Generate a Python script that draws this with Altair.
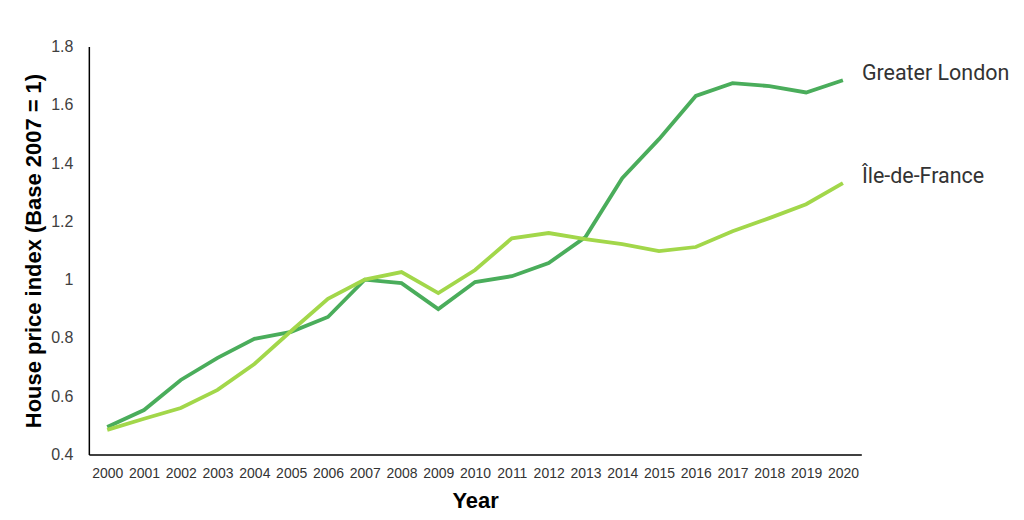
import altair as alt
import pandas as pd

years = list(range(2000, 2021))
london = [0.495, 0.553, 0.656, 0.732, 0.797, 0.821, 0.872, 1.0, 0.988, 0.899, 0.992,
          1.012, 1.057, 1.146, 1.348, 1.482, 1.630, 1.674, 1.664, 1.642, 1.684]
idf = [0.485, 0.523, 0.560, 0.622, 0.711, 0.824, 0.934, 1.0, 1.026, 0.954, 1.033,
       1.142, 1.160, 1.139, 1.122, 1.098, 1.112, 1.166, 1.211, 1.259, 1.331]
series_names = ["Greater London", "Île-de-France"]
series_colors = ["#4aad5b", "#a2d74a"]
y_ticks = [0.4, 0.6, 0.8, 1.0, 1.2, 1.4, 1.6, 1.8]

rows = []
for name, vals in zip(series_names, [london, idf]):
    for yr, v in zip(years, vals):
        rows.append({"Year": str(yr), "Value": v, "Series": name})
df = pd.DataFrame(rows)
last = df[df["Year"] == str(years[-1])]

x_enc = alt.X("Year:O", scale=alt.Scale(type="point", padding=0.5),
              axis=alt.Axis(title="Year", labelAngle=0, ticks=False, tickSize=0,
                            grid=False, domainColor="#000000", domainWidth=1.5,
                            labelFont="Liberation Sans", labelFontSize=14,
                            labelColor="#333333", labelPadding=23,
                            labelBaseline="alphabetic",
                            titleFont="Liberation Sans", titleFontSize=22,
                            titleFontWeight="bold", titleColor="#000000",
                            titleBaseline="alphabetic", titleY=53))
y_enc = alt.Y("Value:Q", scale=alt.Scale(domain=[0.4, 1.8], nice=False, zero=False),
              axis=alt.Axis(title="House price index (Base 2007 = 1)", values=y_ticks,
                            labelExpr="datum.value == 1 ? '1' : format(datum.value, '.1f')",
                            ticks=False, tickSize=0, grid=False,
                            domainColor="#000000", domainWidth=1.5,
                            labelFont="Liberation Sans", labelFontSize=16,
                            labelColor="#404040", labelPadding=16,
                            titleFont="Liberation Sans", titleFontSize=22,
                            titleFontWeight="bold", titleColor="#000000",
                            titleX=-43, titleY=204.5))
color_enc = alt.Color("Series:N", scale=alt.Scale(domain=series_names, range=series_colors),
                      legend=None)

lines = alt.Chart(df).mark_line(strokeWidth=3.8).encode(x=x_enc, y=y_enc, color=color_enc)

labels = alt.Chart(last).mark_text(align="left", baseline="alphabetic", dx=19,
                                   font="Roboto", fontSize=21.5, color="#333333").encode(
    x=alt.X("Year:O"), y=alt.Y("Value:Q"), text="Series:N")

chart = alt.layer(lines, labels).properties(
    width=774, height=409,
    autosize=alt.AutoSizeParams(type="none"),
    padding={"left": 81, "top": 38, "right": 155, "bottom": 57},
    background="white",
).configure_view(stroke=None, strokeWidth=0)

chart.save("out.html", embed_options={"renderer": "svg", "actions": False})
